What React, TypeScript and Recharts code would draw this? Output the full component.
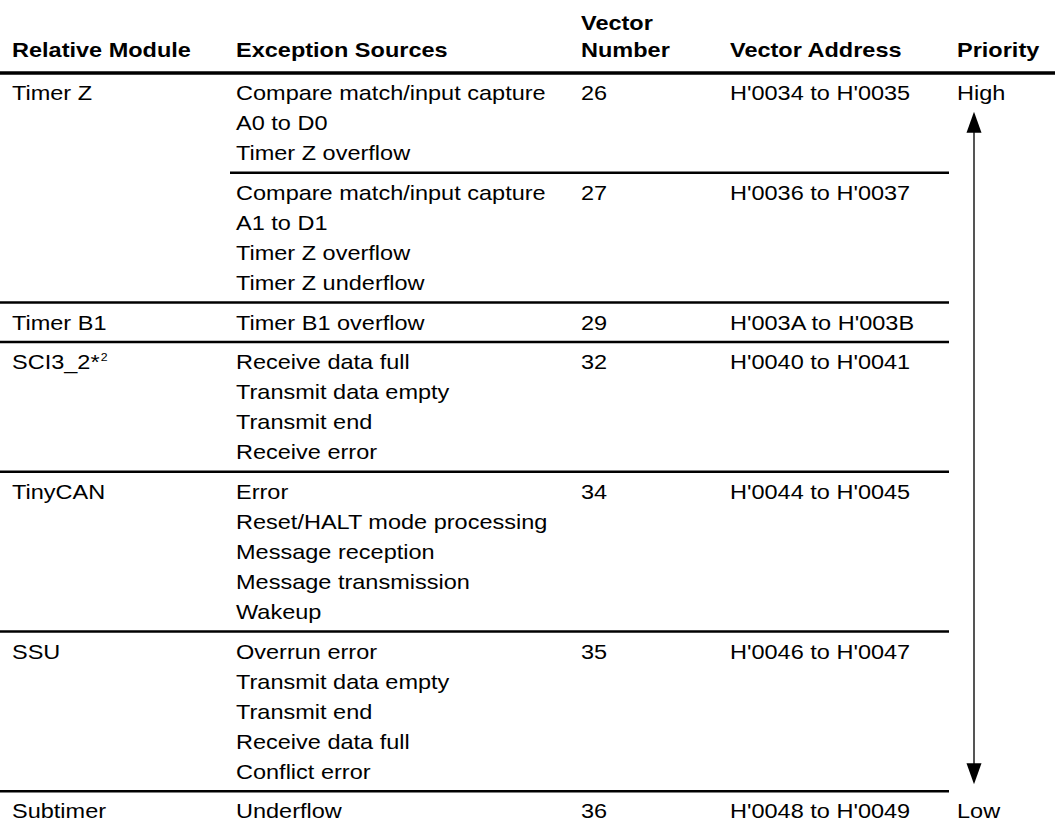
import React from 'react'
import { ScatterChart, Scatter, XAxis, YAxis, ReferenceLine } from 'recharts'

// table content
const headerLabels = [['Relative Module'], ['Exception Sources'], ['Vector', 'Number'], ['Vector Address'], ['Priority']]

const modules = ['Timer Z', '', 'Timer B1', 'SCI3_2*', 'TinyCAN', 'SSU', 'Subtimer']
const moduleNotes = ['', '', '', '2', '', '', '']

const exceptionSources = [
  ['Compare match/input capture', 'A0 to D0', 'Timer Z overflow'],
  ['Compare match/input capture', 'A1 to D1', 'Timer Z overflow', 'Timer Z underflow'],
  ['Timer B1 overflow'],
  ['Receive data full', 'Transmit data empty', 'Transmit end', 'Receive error'],
  ['Error', 'Reset/HALT mode processing', 'Message reception', 'Message transmission', 'Wakeup'],
  ['Overrun error', 'Transmit data empty', 'Transmit end', 'Receive data full', 'Conflict error'],
  ['Underflow'],
]

const vectorNumbers = [26, 27, 29, 32, 34, 35, 36]

const vectorAddresses = [
  "H'0034 to H'0035",
  "H'0036 to H'0037",
  "H'003A to H'003B",
  "H'0040 to H'0041",
  "H'0044 to H'0045",
  "H'0046 to H'0047",
  "H'0048 to H'0049",
]

const priorityLabels = ['High', 'Low']

// layout
const W = 1055
const H = 830
const COL_X = [12, 236, 581, 730, 957]
const HEADER_BASELINES = [30, 57]
const HEADER_RULE_Y = 73
const LINE_H = 30
const ROW_PAD = 9.7
const BASELINE_SHIFT = 7.3
const RULE_END = 949
const INNER_RULE_START = 230
const ARROW_X = 974
const STRETCH = 1.12
const FONT = "'Liberation Sans', Arial, Helvetica, sans-serif"

type CellPoint = { x: number; y: number; text: string; bold?: boolean; note?: string }

const rowTops: number[] = []
let acc = HEADER_RULE_Y
exceptionSources.forEach((lines) => {
  rowTops.push(acc)
  acc += ROW_PAD + LINE_H * lines.length
})
const tableBottom = acc

const lineCenter = (row: number, line: number) => rowTops[row] + ROW_PAD / 2 + LINE_H * (line + 0.5)

const cells: CellPoint[] = []
headerLabels.forEach((lines, col) => {
  lines.forEach((t, i) => {
    cells.push({ x: COL_X[col], y: HEADER_BASELINES[HEADER_BASELINES.length - lines.length + i], text: t, bold: true })
  })
})
exceptionSources.forEach((lines, row) => {
  const base = lineCenter(row, 0) + BASELINE_SHIFT
  if (modules[row]) cells.push({ x: COL_X[0], y: base, text: modules[row], note: moduleNotes[row] })
  lines.forEach((t, i) => cells.push({ x: COL_X[1], y: lineCenter(row, i) + BASELINE_SHIFT, text: t }))
  cells.push({ x: COL_X[2], y: base, text: String(vectorNumbers[row]) })
  cells.push({ x: COL_X[3], y: base, text: vectorAddresses[row] })
})
const lastRow = exceptionSources.length - 1
cells.push({ x: COL_X[4], y: lineCenter(0, 0) + BASELINE_SHIFT, text: priorityLabels[0] })
cells.push({ x: COL_X[4], y: lineCenter(lastRow, 0) + BASELINE_SHIFT, text: priorityLabels[1] })

const arrowTop = lineCenter(0, 0) + 19
const arrowBottom = rowTops[lastRow] - 7
const arrowHeads = [
  { x: ARROW_X, y: arrowTop, dir: -1 },
  { x: ARROW_X, y: arrowBottom, dir: 1 },
]

function CellText(props: any) {
  const { cx, cy, payload } = props
  return (
    <text
      transform={`translate(${cx},${cy}) scale(${STRETCH},1)`}
      fontFamily={FONT}
      fontSize={21}
      fontWeight={payload.bold ? 700 : 400}
      fill="#000"
    >
      {payload.text}
      {payload.note ? (
        <tspan fontSize={11} dx={1} dy={-8}>{payload.note}</tspan>
      ) : null}
    </text>
  )
}

function ArrowHead(props: any) {
  const { cx, cy, payload } = props
  const h = 21 * payload.dir
  return <polygon points={`${cx},${cy} ${cx - 7.5},${cy - h} ${cx + 7.5},${cy - h}`} fill="#000" />
}

export default function App() {
  return (
    <div style={{ position: 'absolute', left: 0, top: 0, width: W, height: H, background: '#fff' }}>
      <ScatterChart width={W} height={H} margin={{ top: 0, right: 0, bottom: 0, left: 0 }}>
        <XAxis type="number" dataKey="x" domain={[0, W]} hide allowDataOverflow />
        <YAxis type="number" dataKey="y" domain={[0, H]} reversed hide allowDataOverflow />
        <ReferenceLine segment={[{ x: 0, y: HEADER_RULE_Y }, { x: W, y: HEADER_RULE_Y }]} stroke="#000" strokeWidth={3.5} />
        {rowTops.slice(1).map((y, i) => (
          <ReferenceLine
            key={i}
            segment={[{ x: modules[i + 1] ? 0 : INNER_RULE_START, y }, { x: RULE_END, y }]}
            stroke="#000"
            strokeWidth={2.5}
          />
        ))}
        <ReferenceLine segment={[{ x: 0, y: tableBottom }, { x: W, y: tableBottom }]} stroke="#000" strokeWidth={3.5} />
        <ReferenceLine
          segment={[{ x: ARROW_X, y: arrowTop + 20 }, { x: ARROW_X, y: arrowBottom - 20 }]}
          stroke="#555"
          strokeWidth={2}
        />
        <Scatter data={arrowHeads} shape={ArrowHead} isAnimationActive={false} />
        <Scatter data={cells} shape={CellText} isAnimationActive={false} />
      </ScatterChart>
    </div>
  )
}
